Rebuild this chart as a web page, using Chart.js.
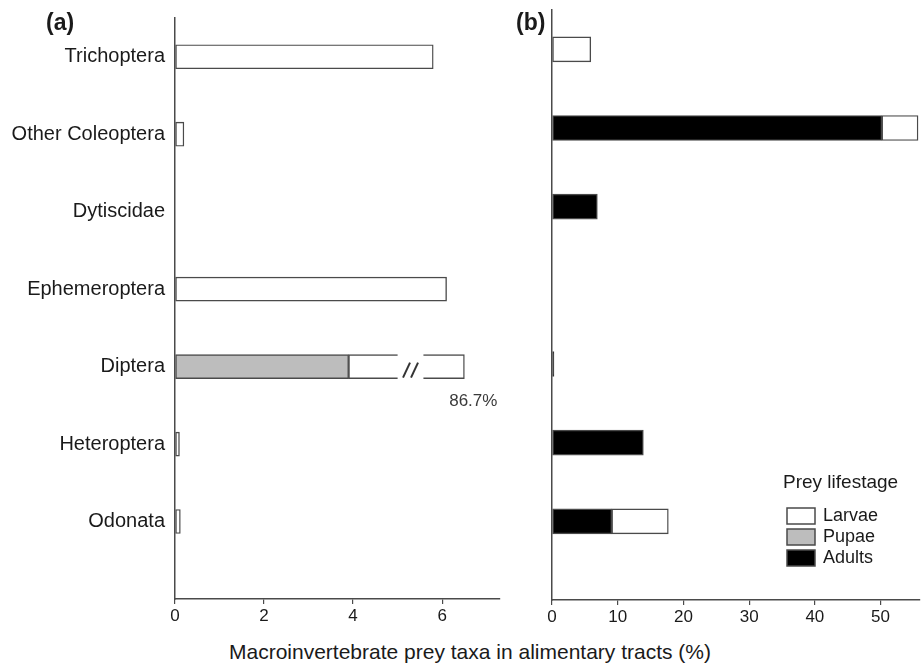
<!DOCTYPE html>
<html>
<head>
<meta charset="utf-8">
<script src="https://cdn.jsdelivr.net/npm/chart.js@4.4.1/dist/chart.umd.min.js"></script>
<style>
  html, body { margin: 0; padding: 0; background: #fff; }
  #wrap { position: relative; width: 921px; height: 669px; overflow: hidden; }
  canvas { position: absolute; top: 0; }
  #cA { left: 0; }
  #cB { left: 505px; }
  #xTitle {
    position: absolute; left: 0; width: 940px; top: 640px;
    text-align: center; font: 21px "Liberation Sans", Arial, sans-serif; color: #1a1a1a;
    line-height: 24px;
  }
</style>
</head>
<body>
<div id="wrap">
  <canvas id="cA" width="505" height="630"></canvas>
  <canvas id="cB" width="416" height="631"></canvas>
  <div id="xTitle">Macroinvertebrate prey taxa in alimentary tracts (%)</div>
</div>
<script>
// Prey taxa, top to bottom
const taxa = ['Trichoptera', 'Other Coleoptera', 'Dytiscidae', 'Ephemeroptera', 'Diptera', 'Heteroptera', 'Odonata'];

// (a) percentage of prey items by life stage
const aLarvae = [5.8, 0.2, 0, 6.1, 82.8, 0.1, 0.12];
const aPupae  = [0, 0, 0, 0, 3.9, 0, 0];
const aAdults = [0, 0, 0, 0, 0, 0, 0];

// (b) percentage of prey items by life stage
const bLarvae = [5.9, 5.5, 0, 0, 0, 0, 8.6];
const bPupae  = [0, 0, 0, 0, 0, 0, 0];
const bAdults = [0, 50.2, 6.9, 0, 0.3, 13.9, 9.1];

// x-axis ticks
const aTicks = [0, 2, 4, 6];
const bTicks = [0, 10, 20, 30, 40, 50];

const FONT = '"Liberation Sans", Arial, sans-serif';
const INK = '#1a1a1a';
const EDGE = '#4a4a4a';
const COLORS = { Larvae: '#ffffff', Pupae: '#bdbdbd', Adults: '#000000' };

// Axis (a) is broken: bars whose total runs past the axis are cut and drawn to a fixed end
const aBreak = { axisMax: 7.3, gapFrom: 5.0, gapTo: 5.58, drawnEnd: 6.5 };

function points(values) {
  return values.map((v, i) => ({ x: v > 0 ? v : null, y: i }));
}

// Larvae values for (a), clipped where the bar would run off the broken axis
function clippedLarvae(larvae, below) {
  return larvae.map((v, i) => {
    const total = v + below[i];
    if (total > aBreak.axisMax) return aBreak.drawnEnd - below[i];
    return v;
  });
}

function datasets(larvae, pupae, adults) {
  const base = { borderColor: EDGE, borderWidth: 1.4, borderSkipped: false, stack: 's' };
  return [
    { label: 'Adults', data: points(adults), backgroundColor: COLORS.Adults, ...base },
    { label: 'Pupae',  data: points(pupae),  backgroundColor: COLORS.Pupae,  ...base },
    { label: 'Larvae', data: points(larvae), backgroundColor: COLORS.Larvae, ...base },
  ];
}

function yScale(showLabels, width) {
  return {
    type: 'linear', reverse: true, min: -0.5, max: 7, stacked: true, offset: false,
    afterBuildTicks: s => { s.ticks = taxa.map((_, i) => ({ value: i })); },
    afterFit: s => { s.width = width; },
    grid: { display: false },
    border: { display: true, color: EDGE, width: 1.5 },
    ticks: {
      display: showLabels, padding: 2, color: INK,
      font: { family: FONT, size: 20 },
      callback: v => taxa[v]
    }
  };
}

function xScale(max, ticks) {
  return {
    type: 'linear', min: 0, max: max, stacked: true,
    afterBuildTicks: s => { s.ticks = ticks.map(v => ({ value: v })); },
    afterFit: s => { s.height = 31; },
    grid: { drawOnChartArea: false, drawTicks: true, tickLength: 5, color: EDGE, lineWidth: 1.2 },
    border: { display: true, color: EDGE, width: 1.5 },
    ticks: { padding: 2, color: INK, font: { family: FONT, size: 17 } }
  };
}

// Panel letter in the top-left corner
const panelLetter = {
  id: 'panelLetter',
  afterDraw(chart, args, opts) {
    const ctx = chart.ctx;
    ctx.save();
    ctx.font = 'bold 23px ' + FONT;
    ctx.fillStyle = INK;
    ctx.textBaseline = 'middle';
    ctx.textAlign = 'left';
    ctx.fillText(opts.text, opts.x, opts.y);
    ctx.restore();
  }
};

// Break marks and true value for bars cut by the broken axis
const axisBreakMarks = {
  id: 'axisBreakMarks',
  afterDatasetsDraw(chart) {
    const ctx = chart.ctx;
    const xs = chart.scales.x;
    const larvaeMeta = chart.getDatasetMeta(2);
    taxa.forEach((_, i) => {
      const total = aLarvae[i] + aPupae[i] + aAdults[i];
      if (total <= aBreak.axisMax) return;
      const bar = larvaeMeta.data[i];
      const top = bar.y - bar.height / 2;
      const bot = bar.y + bar.height / 2;
      const x0 = xs.getPixelForValue(aBreak.gapFrom);
      const x1 = xs.getPixelForValue(aBreak.gapTo);
      ctx.save();
      ctx.fillStyle = '#ffffff';
      ctx.fillRect(x0, top - 2, x1 - x0, bar.height + 4);
      ctx.strokeStyle = '#333';
      ctx.lineWidth = 2;
      const mid = (x0 + x1) / 2;
      [-4, 4].forEach(dx => {
        ctx.beginPath();
        ctx.moveTo(mid + dx - 3.5, bot - 1);
        ctx.lineTo(mid + dx + 3.5, bar.y - 4);
        ctx.stroke();
      });
      ctx.fillStyle = '#3a3a3a';
      ctx.font = '17px ' + FONT;
      ctx.textAlign = 'right';
      ctx.textBaseline = 'middle';
      ctx.fillText(total.toFixed(1) + '%', bar.x + 33, bar.y + 35);
      ctx.restore();
    });
  }
};

// Life-stage key drawn inside panel (b)
const stageKey = {
  id: 'stageKey',
  afterDraw(chart, args, opts) {
    const ctx = chart.ctx;
    ctx.save();
    ctx.fillStyle = INK;
    ctx.textBaseline = 'middle';
    ctx.textAlign = 'left';
    ctx.font = '19px ' + FONT;
    ctx.fillText(opts.title, opts.x - 4, opts.y);
    const items = chart.data.datasets.slice().reverse();
    ctx.font = '18px ' + FONT;
    items.forEach((ds, k) => {
      const y = opts.y + 25 + k * 21;
      ctx.fillStyle = ds.backgroundColor;
      ctx.fillRect(opts.x, y, 28, 16);
      ctx.strokeStyle = EDGE;
      ctx.lineWidth = 1.5;
      ctx.strokeRect(opts.x, y, 28, 16);
      ctx.fillStyle = INK;
      ctx.fillText(ds.label, opts.x + 36, y + 8);
    });
    ctx.restore();
  }
};

const common = {
  responsive: false, animation: false, indexAxis: 'y',
  plugins: { legend: { display: false }, tooltip: { enabled: false } },
};

new Chart(document.getElementById('cA'), {
  type: 'bar',
  data: { datasets: datasets(clippedLarvae(aLarvae, aPupae.map((p, i) => p + aAdults[i])), aPupae, aAdults) },
  options: {
    ...common,
    datasets: { bar: { barThickness: 24 } },
    layout: { padding: { top: 18, right: 5, left: 0, bottom: 0 } },
    scales: { x: xScale(aBreak.axisMax, aTicks), y: yScale(true, 175) },
    plugins: { ...common.plugins, panelLetter: { text: '(a)', x: 46, y: 24 } }
  },
  plugins: [panelLetter, axisBreakMarks]
});

new Chart(document.getElementById('cB'), {
  type: 'bar',
  data: { datasets: datasets(bLarvae, bPupae, bAdults) },
  options: {
    ...common,
    datasets: { bar: { barThickness: 25 } },
    layout: { padding: { top: 10, right: 1, left: 0, bottom: 0 } },
    scales: { x: xScale(56, bTicks), y: yScale(false, 47) },
    plugins: {
      ...common.plugins,
      panelLetter: { text: '(b)', x: 11, y: 24 },
      stageKey: { title: 'Prey lifestage', x: 282, y: 483 }
    }
  },
  plugins: [panelLetter, stageKey]
});
</script>
</body>
</html>
